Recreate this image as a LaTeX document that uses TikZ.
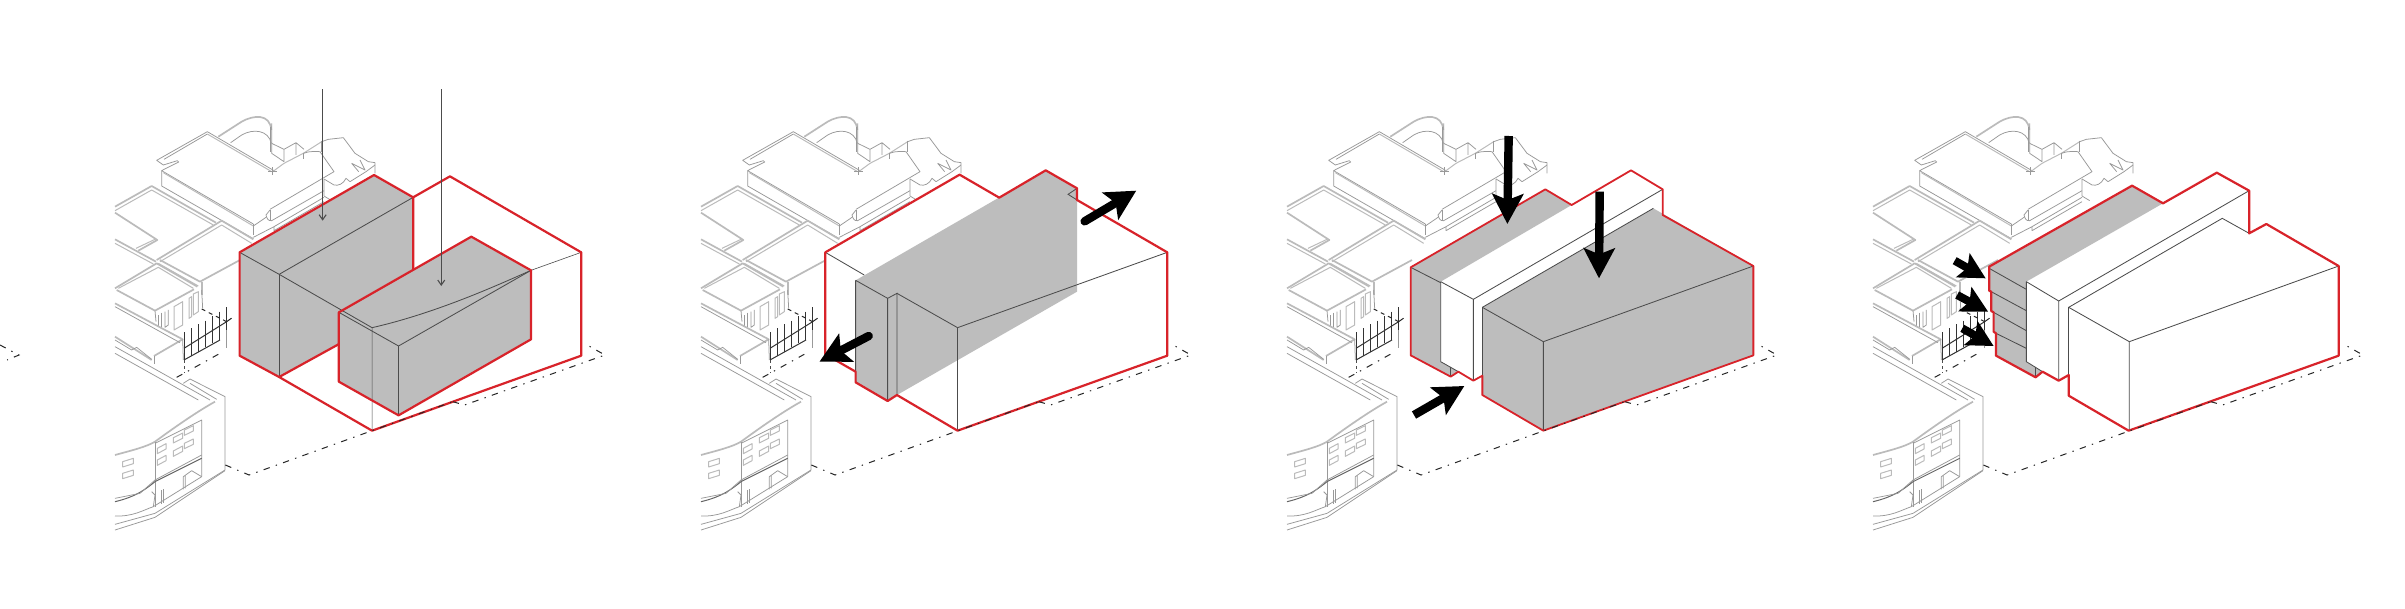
\documentclass[tikz,border=0pt]{standalone}
\usetikzlibrary{arrows.meta}
\definecolor{redl}{HTML}{D8232A}
\definecolor{fillg}{HTML}{BDBDBD}
\definecolor{ctxa}{HTML}{BBBBBB}
\definecolor{ctxb}{HTML}{999999}
\tikzset{
  thick ctx/.style={draw=ctxa,line width=.85pt,line join=round},
  mid ctx/.style={draw=ctxa,line width=.5pt,line join=round},
  thin ctx/.style={draw=ctxb,line width=.38pt,line join=round},
  post/.style={draw=black!80,line width=.5pt},
  sitedash/.style={draw=black!85,line width=.5pt,dash pattern=on 3.2pt off 3.2pt on .7pt off 3.2pt},
  redline/.style={draw=redl,line width=1.1pt,line join=round},
  blockfill/.style={fill=fillg,draw=none},
  thinl/.style={draw=black!70,line width=.42pt},
  fat/.style={draw=black,fill=black,line width=4.2pt,-{Stealth[length=15pt,width=15.5pt,inset=3pt]}},
  fatround/.style={fat,line cap=round},
  fatsmall/.style={draw=black,fill=black,line width=4pt,-{Stealth[length=13pt,width=13.5pt,inset=2.5pt]}},
  panelA/.style={shift={(0pt,-30pt)},x=.1977pt,y=-.16667pt},
  panelB/.style={shift={(340pt,-50pt)},x=.17218pt,y=-.16667pt},
  panelC/.style={shift={(635pt,-50pt)},x=.16667pt,y=-.16667pt},
  panelD/.style={shift={(930pt,-50pt)},x=.17218pt,y=-.16667pt},
  zoomtop/.style={shift={(50pt,-50pt)},x=.16667pt,y=-.16667pt},
  zoomlow/.style={shift={(50pt,-140pt)},x=.16667pt,y=-.16667pt},
  zoomB/.style={shift={(55pt,-90pt)},x=.16667pt,y=-.16667pt},
  zoomC/.style={shift={(55pt,-145pt)},x=.16667pt,y=-.16667pt},
  zoomD/.style={shift={(130pt,-55pt)},x=.16667pt,y=-.16667pt},
}
\newcommand\contextart{%
\begin{scope}[zoomtop]
  % main house, left part
  \draw[thin ctx] (322,95)--(170,181)--(190,195)--(232,182)--(236,186)--(196,206)--(185,212)--(460,372);
  \draw[thin ctx] (322,102)--(192,178);
  \draw[thin ctx] (322,95)--(522,212);
  \draw[mid ctx] (322,102)--(515,215);
  \draw[mid ctx] (190,218)--(460,378);
  \draw[thin ctx] (185,212)--(185,258)--(460,416);
  \draw[thin ctx] (460,372)--(460,405);
  \draw[thin ctx] (460,378)--(498,352);
  \draw[thick ctx] (355,110)--(425,65) .. controls (460,45) and (510,40) .. (514,90);
  \draw[thin ctx] (392,128)--(425,105) .. controls (460,85) and (505,90) .. (514,130);
  \draw[thin ctx] (510,330)--(498,345) .. controls (500,355) and (505,364) .. (515,362)--(672,272);
  \draw[thin ctx] (510,330)--(510,362);
  \draw[thin ctx] (460,412)--(522,380)--(522,392)--(672,305);
  \draw[thin ctx] (522,380)--(672,292);
\end{scope}
\begin{scope}[zoomD]
  \draw[thin ctx] (35,40)--(35,130)--(72,155)--(72,118);
  \draw[thin ctx] (30,50)--(30,125);
  \draw[thin ctx] (35,100)--(72,118)--(108,98)--(132,118) (108,98)--(108,135);
  \draw[thick ctx,line width=.5pt] (38,185)--(72,160)--(130,130)--(185,95);
  \draw[thin ctx] (185,95)--(205,88)--(250,83)--(285,130)--(325,155)--(345,158)--(345,190);
  \draw[thin ctx] (130,130) .. controls (150,122) and (170,125) .. (180,125)--(222,185)--(30,298);
  \draw[thin ctx] (130,130)--(130,146) (185,92)--(185,125);
  \draw[thin ctx] (192,207)--(192,258)--(215,272);
  \draw[thin ctx] (192,207)--(222,225) .. controls (235,228) and (250,222) .. (258,205)--(270,215)--(318,185)--(345,165);
  \draw[thin ctx] (275,160)--(315,180)--(300,150) (275,160)--(296,185);
  \draw[thin ctx] (24,183)--(52,183) (38,172)--(38,196);
\end{scope}
\begin{scope}[zoomB]
  % second building
  \draw[thick ctx] (15,80)--(125,18)--(318,128);
  \draw[mid ctx] (15,92)--(125,30)--(310,135);
  \draw[thick ctx] (15,98)--(142,180)--(85,212);
  \draw[mid ctx] (78,205)--(135,178);
  \draw[thick ctx] (15,178)--(138,245);
  \draw[mid ctx] (15,190)--(130,252);
  % third building
  \draw[thick ctx] (140,240)--(335,122)--(430,178);
  \draw[mid ctx] (150,245)--(335,135)--(425,190);
  \draw[thick ctx] (150,240)--(270,305)--(390,240);
  \draw[mid ctx] (145,250)--(265,318);
  \draw[thick ctx] (15,325)--(140,250)--(262,320);
  \draw[mid ctx] (25,325)--(145,262)--(250,325);
  \draw[thick ctx] (275,305)--(275,345);
\end{scope}
\begin{scope}[zoomC]
  \draw[thick ctx] (20,0)--(135,62)--(252,-2);
  \draw[thin ctx] (135,62)--(138,95);
  \draw[thin ctx] (145,75)--(145,108) (155,68)--(155,112);
  \draw[thin ctx] (165,65)--(165,112)--(175,105)--(175,60);
  \draw[mid ctx] (192,50)--(218,35)--(218,105)--(192,120)--cycle;
  \draw[mid ctx] (237,25)--(237,85)--(245,80)--(245,20)--cycle;
  \draw[mid ctx] (250,12)--(250,75)--(265,65)--(265,5)--cycle;
  \draw[thin ctx] (275,0)--(278,55);
  \draw[thick ctx] (15,40)--(218,148)--(132,198);
  \draw[thin ctx] (15,50)--(210,158);
  \draw[thin ctx] (218,148)--(220,210);
  \draw[thin ctx] (132,198)--(132,222);
  \draw[thick ctx] (15,140)--(70,175)--(125,210);
  \draw[thin ctx] (15,150)--(65,180)--(80,172)--(125,208);
  \draw[thin ctx] (15,170)--(300,330);
  \draw[thin ctx] (15,190)--(265,330);
  % fence
  \foreach \fx/\fa/\fb in {222/127/210,244/115/197,265/103/185,285/92/172,307/78/160,328/65/150}{
    \draw[post] (\fx,\fa)--(\fx,\fb);
  }
  \draw[post] (350,52)--(350,120);
  \draw[thin ctx] (350,120)--(350,175);
  \draw[post] (222,175)--(350,95) (222,210)--(330,150);
  \draw[draw=black!85,line width=.5pt,dash pattern=on 2pt off 2pt] (275,57)--(350,95);
  \draw[draw=black!85,line width=.5pt,dash pattern=on 3pt off 3pt] (350,95)--(378,75);
  \draw[sitedash] (200,262)--(222,250)--(330,190);
  \draw[draw=black!70,line width=.4pt,dash pattern=on 1.5pt off 1.5pt] (222,210)--(222,250);
\end{scope}
\begin{scope}[zoomlow]
  % lower building
  \draw[thin ctx] (250,310)--(270,297)--(375,350)--(375,570);
  \draw[thin ctx] (270,310)--(350,358);
  \draw[thick ctx] (45,525) .. controls (100,510) and (140,500) .. (165,485) .. controls (240,430) and (300,390) .. (345,365);
  \draw[thin ctx] (165,485)--(165,680);
  \draw[thin ctx] (165,490)--(305,420)--(305,590);
  \draw[draw=black!60,line width=.5pt] (45,665) .. controls (110,650) and (140,625) .. (165,605)--(305,535);
  \draw[thin ctx] (45,655)--(120,640)--(165,600)--(305,525);
  \draw[thin ctx] (45,708) .. controls (100,710) and (130,690) .. (160,680)--(305,590);
  \draw[thin ctx] (45,733)--(165,700)--(375,570);
  \draw[thin ctx] (45,750)--(165,712)--(375,572);
  \draw[thin ctx] (250,590)--(250,628) (256,585)--(256,625) (250,590)--(275,572)--(305,590);
  \draw[thin ctx] (185,630)--(185,672) (190,628)--(190,670);
  \draw[thin ctx] (155,635)--(165,645)--(160,680);
  \foreach \wx/\wy/\ww/\ws in {68/545/32/10,68/580/32/10,172/505/26/14,172/540/26/14,220/473/28/14,220/513/28/15,253/450/27/13,253/490/27/13}{
    \draw[mid ctx] (\wx,\wy)--++(\ww,-\ws)--++(0,16)--++(-\ww,\ws)--cycle;
  }
\end{scope}}
\newcommand\siteline{%
\begin{scope}[panelA]
  \draw[sitedash] (570,1215)--(630,1245)--(941,1112)--(1145,1025);
  \draw[sitedash] (1145,1025)--(1175,1035)--(1530,885)--(1482,853);
\end{scope}}
\begin{document}
\begin{tikzpicture}
\useasboundingbox (0pt,0pt) rectangle (1202.5pt,-304.5pt);
\fill[white] (0pt,0pt) rectangle (1202.5pt,-304.5pt);
%%% PANEL 1
\begin{scope}
  \contextart
  \begin{scope}[panelA]
    \fill[white] (606,577)--(946,345)--(1045,412)--(1138,349)--(1470,577)--(1470,887)--(941,1112)--(706,951)--(606,887)--cycle;
    \path[blockfill] (606,577)--(946,345)--(1045,412)--(1045,630)--(856,853)--(706,951)--(606,887)--cycle;
    \path[blockfill] (857,757)--(1192,530)--(1343,631)--(1343,838)--(1008,1066)--(857,965)--cycle;
    \draw[thinl] (606,577)--(706,643)--(1045,412);
    \draw[thinl,line width=.6pt] (706,643)--(706,951);
    \draw[thinl] (706,643)--(941,803);
    \draw[thinl] (857,757)--(1008,858)--(1343,631);
    \draw[thinl] (1008,858)--(1008,1066);
    \draw[thinl] (941,803) .. controls (1100,760) and (1250,680) .. (1343,631);
    \draw[thinl,line width=.3pt] (941,803)--(941,1112) (1343,631)--(1470,577);
    \draw[redline] (606,577)--(946,345)--(1045,412)--(1138,349)--(1470,577)--(1470,887)--(941,1112)--(706,951)--(606,887)--cycle;
    \draw[redline] (1045,412)--(1045,630) (856,853)--(706,951);
    \draw[redline] (857,757)--(1192,530)--(1343,631)--(1343,838)--(1008,1066)--(857,965)--cycle;
    \draw[draw=black!70,line width=.55pt,-{Straight Barb[length=2.5pt,width=3.5pt]}] (816,88)--(816,482);
    \draw[draw=black!70,line width=.55pt,-{Straight Barb[length=2.5pt,width=3.5pt]}] (1116,88)--(1116,678);
    \draw[sitedash] (0,855)--(48,885)--(18,900);
  \end{scope}
  \siteline
\end{scope}
%%% PANEL 2
\begin{scope}[xshift=293pt]
  \contextart
\end{scope}
\begin{scope}[panelB]
  \fill[white] (422,457)--(812,224)--(927,293)--(1062,211)--(1153,265)--(1153,300)--(1415,457)--(1415,767)--(806,992)--(630,885)--(603,903)--(510,847)--(510,815)--(422,763)--cycle;
  \path[blockfill] (510,541)--(926,293)--(1062,211)--(1153,265)--(1153,575)--(630,885)--(603,903)--(510,847)--cycle;
  \draw[thinl] (422,457)--(535,525);
  \draw[thinl] (510,541)--(603,595)--(603,903) (510,541)--(510,847);
  \draw[thinl] (603,595)--(630,580)--(630,885);
  \draw[thinl] (630,580)--(806,683)--(806,992);
  \draw[thinl] (806,683)--(1415,457);
  \draw[thinl] (1153,265)--(1127,283)--(1153,300);
  \draw[redline] (422,763)--(422,457)--(812,224)--(927,293)--(1062,211)--(1153,265)--(1153,300)--(1415,457)--(1415,767)--(806,992)--(630,885)--(603,903)--(510,847)--(510,815)--cycle;
  \draw[fatround] (1175,364)--(1325,272);
  \draw[fatround] (548,708)--(405,785);
\end{scope}
\begin{scope}[xshift=293pt]\siteline\end{scope}
%%% PANEL 3
\begin{scope}[xshift=586pt]
  \contextart
\end{scope}
\begin{scope}[panelC]
  \fill[white] (422,502)--(826,268)--(905,315)--(1083,211)--(1178,268)--(1178,345)--(1450,498)--(1450,766)--(820,992)--(637,885)--(637,827)--(610,842)--(565,815)--(542,830)--(422,766)--cycle;
  \path[blockfill] (422,502)--(826,268)--(905,315)--(512,545)--(512,785)--(565,815)--(542,830)--(422,766)--cycle;
  \path[blockfill] (637,622)--(1150,325)--(1450,498)--(1450,766)--(820,992)--(637,885)--cycle;
  \draw[thinl] (422,502)--(512,548);
  \draw[thinl] (512,545)--(610,598)--(610,842);
  \draw[thinl] (512,545)--(512,785)--(565,815);
  \draw[thinl] (610,598)--(1178,268);
  \draw[thinl] (542,802)--(542,830);
  \draw[thinl] (637,622)--(1150,325);
  \draw[thinl] (637,622)--(820,725)--(820,992);
  \draw[thinl] (820,725)--(1450,498);
  \draw[thinl] (637,622)--(637,827);
  \draw[redline,line width=.9pt] (422,766)--(422,502)--(826,268)--(905,315)--(1083,211)--(1178,268)--(1178,345)--(1450,498)--(1450,766)--(820,992)--(637,885)--(637,827)--(610,842)--(565,815)--(542,830)--cycle;
  \draw[fat] (716,108)--(712,372);
  \draw[fat] (989,275)--(987,535);
  \draw[fat] (432,945)--(583,858);
\end{scope}
\begin{scope}[xshift=586pt]\siteline\end{scope}
%%% PANEL 4
\begin{scope}[xshift=879pt]
  \contextart
\end{scope}
\begin{scope}[panelD]
  \fill[white] (375,500)--(790,257)--(880,310)--(1036,218)--(1130,272)--(1130,400)--(1180,372)--(1390,498)--(1390,767)--(780,992)--(606,887)--(606,825)--(577,842)--(530,815)--(510,832)--(395,767)--(395,700)--(388,695)--(388,637)--(381,633)--(381,575)--(375,572)--cycle;
  \path[blockfill] (375,500)--(790,257)--(880,310)--(483,545)--(483,785)--(530,815)--(510,832)--(395,767)--(395,700)--(388,695)--(388,637)--(381,633)--(381,575)--(375,572)--cycle;
  \draw[thinl] (375,505)--(483,568) (381,575)--(483,632) (388,637)--(483,692) (395,700)--(483,745);
  \draw[thinl] (483,545)--(577,603)--(577,842);
  \draw[thinl] (483,545)--(483,785)--(530,815);
  \draw[thinl] (577,603)--(1130,272);
  \draw[thinl] (606,622)--(1052,355)--(1130,400);
  \draw[thinl] (606,622)--(782,725)--(782,992);
  \draw[thinl] (782,725)--(1390,498);
  \draw[thinl] (606,622)--(606,825);
  \draw[thinl] (510,800)--(510,832);
  \draw[redline] (375,572)--(375,500)--(790,257)--(880,310)--(1036,218)--(1130,272)--(1130,400)--(1180,372)--(1390,498)--(1390,767)--(780,992)--(606,887)--(606,825)--(577,842)--(530,815)--(510,832)--(395,767)--(395,700)--(388,695)--(388,637)--(381,633)--(381,575)--cycle;
  \draw[fatsmall] (275,482)--(365,535);
  \draw[fatsmall] (282,585)--(372,635);
  \draw[fatsmall] (297,685)--(388,738);
\end{scope}
\begin{scope}[xshift=879pt]\siteline\end{scope}
\end{tikzpicture}
\end{document}
